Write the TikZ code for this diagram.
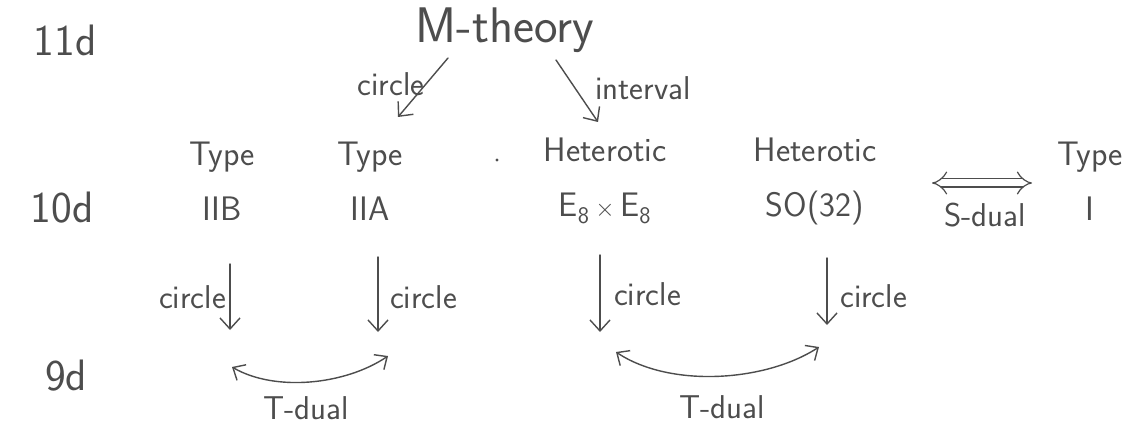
\documentclass[tikz,border=0pt]{standalone}
\usetikzlibrary{arrows.meta}
\definecolor{ink}{HTML}{4D4D4D}
\begin{document}
\begin{tikzpicture}[x=1pt,y=-1pt,
  pen/.style={draw=ink, line width=1.4pt, line cap=round},
  arr/.style={pen, -{Straight Barb[length=11pt,width=20pt,line width=1.4pt]}},
  darr/.style={pen, {Straight Barb[length=10pt,width=18pt,line width=1.4pt]}-{Straight Barb[length=10pt,width=18pt,line width=1.4pt]}},
  sdarr/.style={draw=ink, line width=1.2pt, double=white, double distance=7pt, {Implies[]}-{Implies[]}},
  big/.style={text=ink, font=\sffamily\fontsize{34}{55}\selectfont, inner sep=0pt, align=center},
  dim/.style={text=ink, font=\sffamily\fontsize{44}{50}\selectfont, inner sep=0pt},
  lab/.style={text=ink, font=\sffamily\fontsize{33}{40}\selectfont, inner sep=0pt},
]
\fill[white] (0,0) rectangle (1128,425);
\useasboundingbox (0,0) rectangle (1128,425);

% dimension labels
\node[dim] (d11) at (65,40) {11d};
\node[dim] (d10) at (62,208) {10d};
\node[dim] (d9) at (66,376) {9d};

% theories
\node[dim, font=\sffamily\fontsize{50}{55}\selectfont] (M) at (505,30) {M-theory};
\node[big] (IIB) at (222,181) {Type\\IIB};
\node[big] (IIA) at (370,181) {Type\\IIA};
\node[big] (HE) at (605,181) {Heterotic\\E\textsubscript{8}\,$\times$\,E\textsubscript{8}};
\node[big] (HO) at (815,181) {Heterotic\\SO(32)};
\node[big] (I) at (1090,181) {Type\\I};
\fill[ink] (497,160) circle (1.6pt);

% M-theory arrows
\coordinate (m1) at (448,58);
\coordinate (m2) at (556,60);
\coordinate (a2) at (398,117);
\coordinate (h2) at (598,122);
\draw[arr] (m1) -- (a2);
\draw[arr] (m2) -- (h2);
\node[lab] (lc) at (391,84) {circle};
\node[lab] (li) at (643,88) {interval};

% S-duality
\coordinate (s1) at (932,183);
\coordinate (s2) at (1032,183);
\draw[sdarr] (s1) -- (s2);
\node[lab] (ls) at (985,215) {S-dual};

% circle compactifications
\coordinate (b1) at (230,264); \coordinate (b2) at (230,330);
\coordinate (c1) at (378,257); \coordinate (c2) at (378,332);
\coordinate (e1) at (600,255); \coordinate (e2) at (600,332);
\coordinate (f1) at (827,258); \coordinate (f2) at (827,325);
\draw[arr] (b1) -- (b2);
\draw[arr] (c1) -- (c2);
\draw[arr] (e1) -- (e2);
\draw[arr] (f1) -- (f2);
\node[lab, anchor=east] (lb) at (226,297) {circle};
\node[lab, anchor=west] (lc2) at (390,297) {circle};
\node[lab, anchor=west] (le) at (614,294) {circle};
\node[lab, anchor=west] (lf) at (840,296) {circle};

% T-duality
\coordinate (t1) at (232,367);
\coordinate (t2) at (388,356);
\coordinate (t3) at (616,352);
\coordinate (t4) at (819,347);
\draw[darr] (t1) .. controls (275,392) and (345,385) .. (t2);
\draw[darr] (t3) .. controls (670,388) and (765,382) .. (t4);
\node[lab] (lt1) at (306,408) {T-dual};
\node[lab] (lt2) at (722,407) {T-dual};
\end{tikzpicture}
\end{document}
